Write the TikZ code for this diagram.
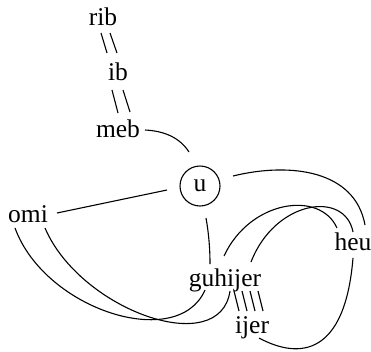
\documentclass[tikz,border=0pt]{standalone}
\usepackage{fontspec}
\setmainfont{Liberation Serif}
\begin{document}
\begin{tikzpicture}[x=1pt,y=-1pt,
  lbl/.style={font=\fontsize{25.5}{30}\selectfont, inner sep=0pt, anchor=base},
  edge/.style={line width=1.1pt}]
\useasboundingbox (0,0) rectangle (371,351);
% nodes
\node[lbl] (rib) at (103,25) {rib};
\node[lbl] (ib) at (118,80) {ib};
\node[lbl] (meb) at (118,137) {meb};
\node[lbl] (omi) at (28,222) {omi};
\node[lbl] (heu) at (353,250) {heu};
\node[lbl] (guhijer) at (225,286) {guhijer};
\node[lbl] (ijer) at (252,333) {ijer};
\node[circle, draw, line width=1.1pt, minimum size=40pt, inner sep=0pt,
      font=\fontsize{25.5}{30}\selectfont] (u) at (200,186) {u};
% edges
\draw[edge] ([shift={(-2,8)}]rib.base) -- ([shift={(-11,-27)}]ib.base);
\draw[edge] ([shift={(7,8)}]rib.base) -- ([shift={(-1,-27)}]ib.base);
\draw[edge] ([shift={(-6,10)}]ib.base) -- ([shift={(0,-24)}]meb.base);
\draw[edge] ([shift={(5,10)}]ib.base) -- ([shift={(12,-25)}]meb.base);
\draw[edge] ([shift={(27,-7)}]meb.base) .. controls (165,131) and (180,138) .. ([shift={(-11,-34)}]u.center);
\draw[edge] ([shift={(-33,4)}]u.center) -- ([shift={(29,-9)}]omi.base);
\draw[edge] ([shift={(33,-10)}]u.center) .. controls (290,162) and (355,170) .. ([shift={(12,-25)}]heu.base);
\draw[edge] ([shift={(6,32)}]u.center) .. controls (209,235) and (210,250) .. ([shift={(-15,-22)}]guhijer.base);
\draw[edge] ([shift={(-13,6)}]omi.base) .. controls (45,310) and (178,352) .. ([shift={(-20,4)}]guhijer.base);
\draw[edge] ([shift={(17,6)}]omi.base) .. controls (80,310) and (220,360) .. ([shift={(5,5)}]guhijer.base);
\draw[edge] ([shift={(-1,-30)}]guhijer.base) .. controls (250,200) and (320,190) .. ([shift={(-16,-22)}]heu.base);
\draw[edge] ([shift={(26,-24)}]guhijer.base) .. controls (275,200) and (345,190) .. ([shift={(0,-18)}]heu.base);
\draw[edge] ([shift={(0,8)}]heu.base) .. controls (345,355) and (300,360) .. ([shift={(7,5)}]ijer.base);
\draw[edge] ([shift={(9,5)}]guhijer.base) -- ([shift={(-13,-22)}]ijer.base);
\draw[edge] ([shift={(17,5)}]guhijer.base) -- ([shift={(-5,-22)}]ijer.base);
\draw[edge] ([shift={(25,5)}]guhijer.base) -- ([shift={(3,-22)}]ijer.base);
\draw[edge] ([shift={(33,5)}]guhijer.base) -- ([shift={(11,-22)}]ijer.base);
\end{tikzpicture}
\end{document}
